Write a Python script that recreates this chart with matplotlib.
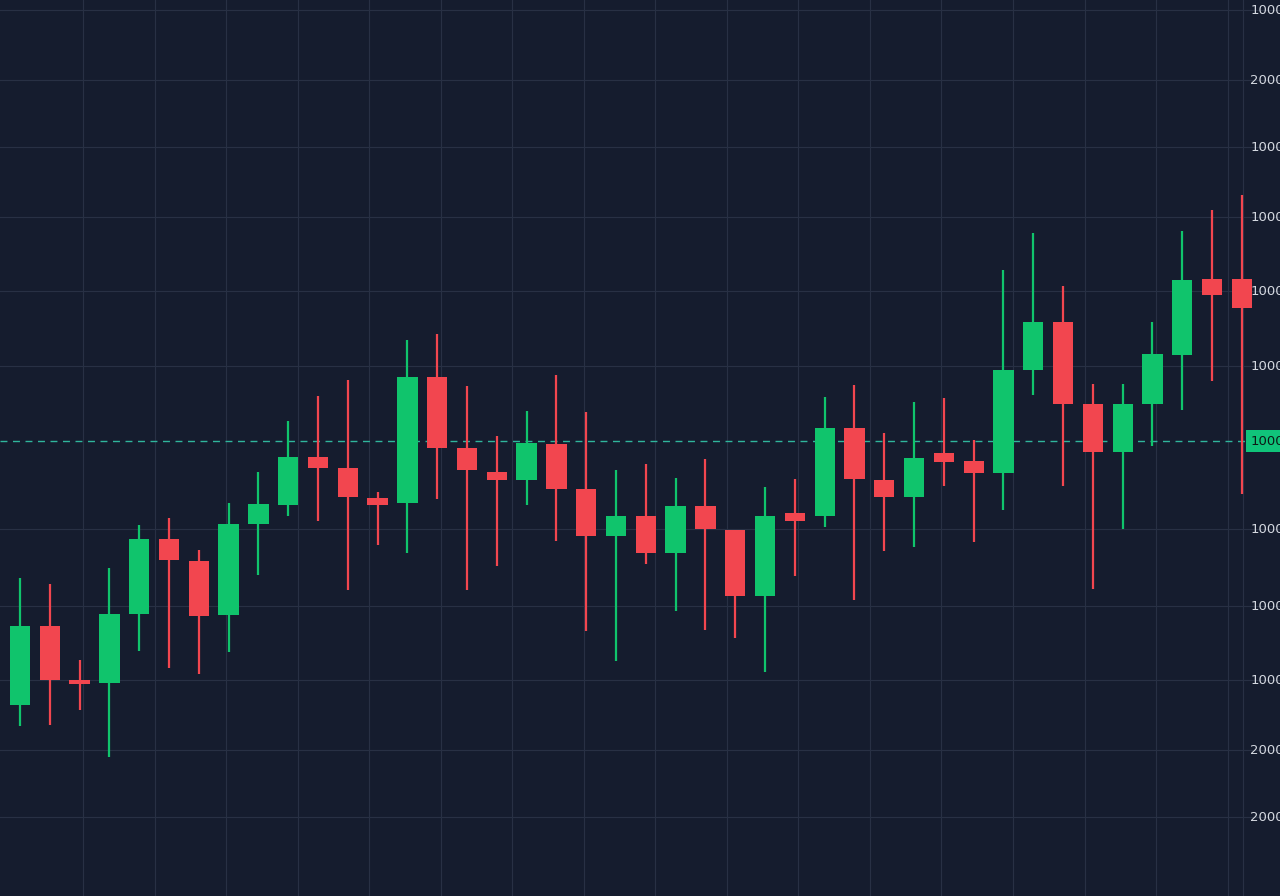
import numpy as np
import matplotlib.pyplot as plt

# candle data (price units), green = close > open
opens  = [195, 274, 220, 217, 286, 361, 339, 285, 376, 395, 443, 432, 402, 397, 523, 452, 428, 420, 456, 411,
          364, 384, 347, 394, 370, 304, 387, 384, 472, 420, 403, 447, 439, 427, 530, 578, 496, 448, 496, 545,
          621, 621]
closes = [274, 220, 216, 286, 361, 340, 284, 376, 396, 443, 432, 403, 395, 523, 452, 430, 420, 457, 411, 364,
          384, 347, 394, 371, 304, 384, 379, 472, 421, 403, 442, 438, 427, 530, 578, 496, 448, 496, 546, 620,
          605, 592]
highs  = [322, 316, 240, 332, 375, 382, 350, 397, 428, 479, 504, 520, 408, 560, 566, 514, 464, 489, 525, 488,
          430, 436, 422, 441, 370, 413, 421, 503, 515, 467, 498, 502, 460, 630, 667, 614, 516, 516, 578, 669,
          690, 705]
lows   = [174, 175, 190, 143, 249, 232, 226, 248, 325, 384, 379, 310, 355, 347, 401, 310, 334, 395, 359, 269,
          239, 336, 289, 270, 262, 228, 324, 373, 300, 349, 353, 414, 358, 390, 505, 414, 311, 371, 454, 490,
          519, 406]

tick_vals   = [890, 820, 753, 683, 609, 534, 371, 294, 220, 150, 83]
tick_labels = ["1000", "2000", "1000", "1000", "1000", "1000", "1000", "1000", "1000", "2000", "2000"]
last_price = 459
last_label = "1000"

bg = "#151c2e"
up, down = "#10c46c", "#f2464f"
grid_c = "#283044"

fig = plt.figure(figsize=(12.8, 8.96), dpi=100, facecolor=bg)
ax = fig.add_axes([0, 0, 1, 1])
ax.set_facecolor(bg)
ax.set_xlim(-0.671, 42.28)
ax.set_ylim(4, 900)
ax.axis("off")

for v in tick_vals:
    ax.axhline(v, color=grid_c, lw=0.8, zorder=0)
for gx in np.arange(2.12, 41, 2.4):
    ax.axvline(gx, color=grid_c, lw=0.8, zorder=0)
ax.axvline(41.05, color=grid_c, lw=0.8, zorder=0)

for i, (o, c, h, l) in enumerate(zip(opens, closes, highs, lows)):
    col = up if c >= o else down
    ax.vlines(i, l, h, color=col, lw=1.6, zorder=2)
    ax.bar(i, max(abs(c - o), 3), bottom=min(o, c), width=0.68, color=col, zorder=3)

ax.axhline(last_price, color="#2fb59c", lw=1, ls=(0, (5, 4)), zorder=1)

for v, t in zip(tick_vals, tick_labels):
    ax.text(41.28, v, t, color="#d4d8e0", fontsize=9.5, va="center", ha="left")
ax.text(41.28, last_price, last_label, color="#0d1a16", fontsize=9.5, va="center", ha="left",
        bbox=dict(boxstyle="square,pad=0.35", fc="#10c47a", ec="none"), zorder=5)

fig.savefig("out.png", dpi=100, facecolor=bg)
